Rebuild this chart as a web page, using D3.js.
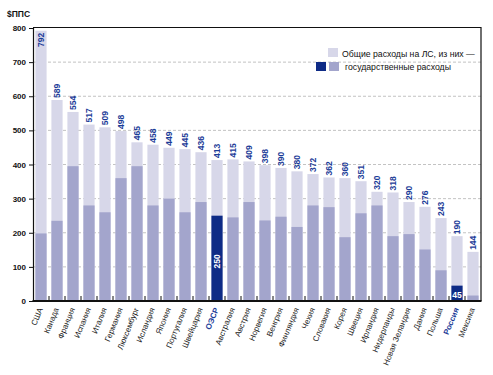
<!DOCTYPE html>
<html>
<head>
<meta charset="utf-8">
<script src="https://cdn.jsdelivr.net/npm/d3@7"></script>
<style>
  body { margin: 0; background: #fff; }
  svg { display: block; font-family: "Liberation Sans", Arial, sans-serif; }
</style>
</head>
<body>
<svg id="chart" width="493" height="375"></svg>
<script>
// Расходы на лекарственные средства, $ППС на душу населения
const countries = ["США", "Канада", "Франция", "Испания", "Италия", "Германия", "Люксембург",
  "Исландия", "Япония", "Португалия", "Швейцария", "ОЭСР", "Австралия", "Австрия", "Норвегия",
  "Венгрия", "Финляндия", "Чехия", "Словакия", "Корея", "Швеция", "Ирландия", "Нидерланды",
  "Новая Зеландия", "Дания", "Польша", "Россия", "Мексика"];
const totalSpend = [792, 589, 554, 517, 509, 498, 465, 458, 449, 445, 436, 413, 415, 409, 398,
  390, 380, 372, 362, 360, 351, 320, 318, 290, 276, 243, 190, 144];
const publicSpend = [198, 235, 395, 280, 260, 360, 395, 280, 300, 260, 290, 250, 245, 290, 236,
  247, 217, 280, 275, 187, 257, 280, 190, 196, 151, 90, 45, 16];
const highlighted = ["ОЭСР", "Россия"];
const yTicks = [0, 100, 200, 300, 400, 500, 600, 700, 800];
const legendLabels = ["Общие расходы на ЛС, из них —", "государственные расходы"];

const cLight = "#d7d7e9", cMid = "#a3a5cc", cDark = "#0e2b86", cText = "#1c3c98";

const svg = d3.select("#chart");
const pLeft = 33, pRight = 481, pTop = 28, pBottom = 301;

const x = d3.scaleBand()
  .domain(countries)
  .range([pLeft, pRight])
  .paddingInner(0.3)
  .paddingOuter(0.15);

const y = d3.scaleLinear()
  .domain([0, 800])
  .range([pBottom, pTop]);

// сетка
svg.append("g")
  .selectAll("line")
  .data(yTicks.filter(t => t > 0 && t < 800))
  .join("line")
  .attr("x1", pLeft).attr("x2", pRight)
  .attr("y1", d => y(d)).attr("y2", d => y(d))
  .attr("stroke", "#b4b4b4")
  .attr("stroke-width", 0.8)
  .attr("stroke-dasharray", "3,2");

const rows = countries.map((c, i) => ({ c, total: totalSpend[i], pub: publicSpend[i] }));
const isHi = d => highlighted.includes(d.c);

// общие расходы
svg.append("g")
  .selectAll("rect")
  .data(rows)
  .join("rect")
  .attr("x", d => x(d.c))
  .attr("y", d => y(d.total))
  .attr("width", x.bandwidth())
  .attr("height", d => pBottom - y(d.total))
  .attr("fill", cLight);

// государственные расходы
svg.append("g")
  .selectAll("rect")
  .data(rows)
  .join("rect")
  .attr("x", d => x(d.c))
  .attr("y", d => y(d.pub))
  .attr("width", x.bandwidth())
  .attr("height", d => pBottom - y(d.pub))
  .attr("fill", d => isHi(d) ? cDark : cMid);

// рамка
svg.append("path")
  .attr("d", `M${pLeft},${pTop - 0.5}H${pRight}V${pBottom}`)
  .attr("fill", "none")
  .attr("stroke", "#111")
  .attr("stroke-width", 1.2);

// ось Y
const yAxis = svg.append("g")
  .attr("transform", `translate(${pLeft},0)`)
  .call(d3.axisLeft(y).tickValues(yTicks).tickSize(4).tickPadding(3));
yAxis.select(".domain").attr("stroke", "#111").attr("stroke-width", 1.2);
yAxis.selectAll(".tick line").attr("stroke", "#111");
yAxis.selectAll("text")
  .attr("font-family", "Liberation Sans, Arial, sans-serif")
  .attr("font-size", "8px")
  .attr("font-weight", "bold")
  .attr("fill", "#111");

svg.append("text")
  .attr("x", 7).attr("y", 17)
  .attr("font-size", "8.5px")
  .attr("font-weight", "bold")
  .attr("fill", "#111")
  .text("$ППС");

// ось X: засечки между столбиками, направленные внутрь
const step = x.step();
const bounds = d3.range(1, countries.length).map(i => x(countries[i]) - x.paddingInner() * step / 2);
svg.append("g")
  .selectAll("line")
  .data(bounds)
  .join("line")
  .attr("x1", d => d).attr("x2", d => d)
  .attr("y1", pBottom).attr("y2", pBottom - 5)
  .attr("stroke", "#111")
  .attr("stroke-width", 1);

svg.append("line")
  .attr("x1", pLeft - 0.5).attr("x2", pRight + 0.5)
  .attr("y1", pBottom).attr("y2", pBottom)
  .attr("stroke", "#111")
  .attr("stroke-width", 2);

// подписи стран
svg.append("g")
  .selectAll("text")
  .data(rows)
  .join("text")
  .attr("transform", d => `translate(${x(d.c) + x.bandwidth() / 2 + 2},${pBottom + 8}) rotate(-68)`)
  .attr("text-anchor", "end")
  .attr("font-size", "8px")
  .attr("font-weight", d => isHi(d) ? "bold" : "normal")
  .attr("fill", d => isHi(d) ? cText : "#1a1a1a")
  .text(d => d.c);

// значения над столбиками
const labelInside = d => y(d.total) - 16 < pTop;
svg.append("g")
  .selectAll("text")
  .data(rows)
  .join("text")
  .attr("transform", d => {
    const cx = x(d.c) + x.bandwidth() / 2;
    return `translate(${cx},${labelInside(d) ? y(d.total) + 2 : y(d.total) - 2}) rotate(-90)`;
  })
  .attr("text-anchor", d => labelInside(d) ? "end" : "start")
  .attr("dominant-baseline", "central")
  .attr("font-size", "8.5px")
  .attr("font-weight", "bold")
  .attr("fill", cText)
  .text(d => d.total);

// значения госрасходов для выделенных
const oecd = rows[countries.indexOf("ОЭСР")];
svg.append("text")
  .attr("transform", `translate(${x(oecd.c) + x.bandwidth() / 2},${(y(oecd.pub) + pBottom) / 2 + 3}) rotate(-90)`)
  .attr("text-anchor", "middle")
  .attr("dominant-baseline", "central")
  .attr("font-size", "8.5px")
  .attr("font-weight", "bold")
  .attr("fill", "#fff")
  .text(oecd.pub);

const rus = rows[countries.indexOf("Россия")];
svg.append("text")
  .attr("x", x(rus.c) + x.bandwidth() / 2)
  .attr("y", pBottom - 3)
  .attr("text-anchor", "middle")
  .attr("font-size", "8.5px")
  .attr("font-weight", "bold")
  .attr("fill", "#fff")
  .text(rus.pub);

// легенда
const legend = svg.append("g");
legend.append("rect").attr("x", 328).attr("y", 48).attr("width", 10).attr("height", 9).attr("fill", cLight);
legend.append("rect").attr("x", 316).attr("y", 62).attr("width", 10).attr("height", 9).attr("fill", cDark);
legend.append("rect").attr("x", 329).attr("y", 62).attr("width", 10).attr("height", 9).attr("fill", cMid);
legend.append("text").attr("x", 342).attr("y", 57)
  .attr("font-size", "8.7px").attr("fill", "#111").text(legendLabels[0]);
legend.append("text").attr("x", 345).attr("y", 70)
  .attr("font-size", "8.7px").attr("fill", "#111").text(legendLabels[1]);
</script>
</body>
</html>
